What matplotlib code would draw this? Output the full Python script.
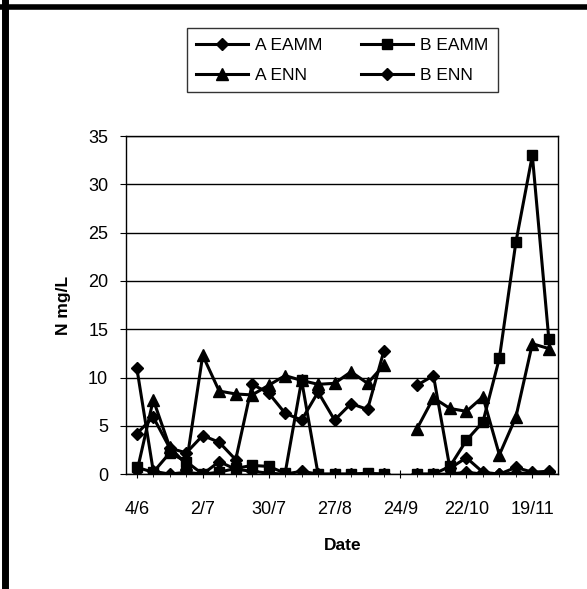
import numpy as np
import pandas as pd
import matplotlib
matplotlib.use("Agg")
import matplotlib.pyplot as plt
from matplotlib.lines import Line2D

# weekly sampling dates (day/month), 24/9 has no data
fechas = ['4/6', '11/6', '18/6', '25/6', '2/7', '9/7', '16/7', '23/7', '30/7',
          '6/8', '13/8', '20/8', '27/8', '3/9', '10/9', '17/9', '24/9', '1/10',
          '8/10', '15/10', '22/10', '29/10', '5/11', '12/11', '19/11', '26/11']

nan = np.nan
a_eamm = [4.2, 5.9, 2.7, 2.2, 4.0, 3.3, 1.5, 9.3, 8.4, 6.3, 5.6, 8.5, 5.6,
          7.3, 6.7, 12.8, nan, 9.2, 10.2, 0.6, 1.7, 0.2, 0.0, 0.1, 0.1, 0.2]
b_eamm = [0.7, 0.2, 2.2, 1.3, 0.0, 0.2, 0.6, 0.9, 0.8, 0.1, 9.7, 0.0, 0.0,
          0.0, 0.1, 0.0, nan, 0.0, 0.0, 0.8, 3.5, 5.4, 12.0, 24.0, 33.0, 14.0]
a_enn = [0.2, 7.7, 2.8, 1.0, 12.3, 8.6, 8.3, 8.2, 9.2, 10.2, 9.7, 9.3, 9.4,
         10.6, 9.4, 11.3, nan, 4.7, 7.9, 6.8, 6.5, 8.0, 2.0, 5.9, 13.5, 13.0]
b_enn = [11.0, 0.3, 0.0, 0.2, 0.0, 1.3, 0.5, 0.3, 0.1, 0.0, 0.3, 0.0, 0.0,
         0.0, 0.0, 0.0, nan, 0.0, 0.0, 0.0, 0.2, 0.0, 0.0, 0.7, 0.2, 0.3]

tick_labels = ['4/6', '2/7', '30/7', '27/8', '24/9', '22/10', '19/11']


def to_day(s):
    return pd.to_datetime(s + '/2000', format='%d/%m/%Y')


def main():
    plt.rcParams['font.family'] = ['Liberation Sans', 'DejaVu Sans']
    x = np.array([(to_day(f) - to_day('4/6')).days for f in fechas])
    xt = [(to_day(f) - to_day('4/6')).days for f in tick_labels]

    fig = plt.figure(figsize=(5.87, 5.89), dpi=100)
    ax = fig.add_axes([0.215, 0.195, 0.736, 0.574])

    ax.plot(x, a_eamm, color='black', lw=2.2, marker='D', ms=6.5, label='A EAMM')
    ax.plot(x, a_enn, color='black', lw=2.2, marker='^', ms=9, label='A ENN')
    ax.plot(x, b_eamm, color='black', lw=2.2, marker='s', ms=7, label='B EAMM')
    ax.plot(x, b_enn, color='black', lw=2.2, marker='D', ms=6.5, label='B ENN')

    ax.set_ylim(0, 35)
    ax.set_yticks(np.arange(0, 36, 5))
    ax.set_xlim(-4.5, 179)
    ax.set_xticks(xt)
    ax.set_xticklabels(tick_labels)
    ax.set_xticks(x, minor=True)
    ax.yaxis.grid(True, color='black', lw=1)
    ax.set_axisbelow(True)
    for s in ax.spines.values():
        s.set_color('black')
        s.set_linewidth(1)
    ax.tick_params(axis='both', labelsize=13, length=4, color='black')
    ax.tick_params(axis='y', pad=9)
    ax.tick_params(axis='x', which='minor', length=4, direction='inout')
    ax.tick_params(axis='x', which='major', length=6, direction='inout', pad=16)

    ax.set_ylabel('N mg/L', fontsize=12.5, fontweight='bold', labelpad=12)
    ax.set_xlabel('Date', fontsize=12.5, fontweight='bold', labelpad=15)

    leg = ax.legend(ncol=2, loc='center', bbox_to_anchor=(0.583, 0.898),
                    bbox_transform=fig.transFigure, fontsize=12.5,
                    frameon=True, fancybox=False, edgecolor='black',
                    handlelength=3.0, columnspacing=2.2, handletextpad=0.4,
                    borderpad=0.55, labelspacing=0.85)
    leg.get_frame().set_linewidth(1)

    # marco escaneado: bordes gruesos izquierda y arriba
    fig.add_artist(Line2D([0.008, 0.008], [0, 1], color='black', lw=5,
                          transform=fig.transFigure))
    fig.add_artist(Line2D([0, 1], [0.988, 0.988], color='black', lw=4,
                          transform=fig.transFigure))

    fig.savefig('out.png', dpi=100)


if __name__ == "__main__":
    main()
